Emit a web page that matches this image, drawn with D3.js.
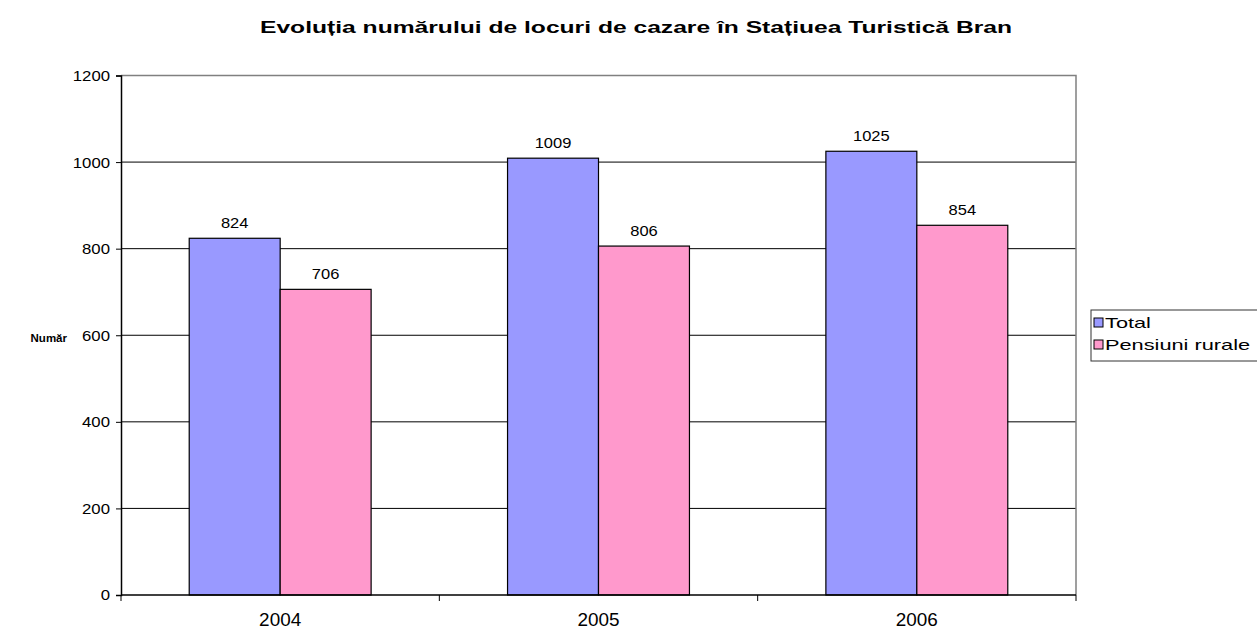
<!DOCTYPE html>
<html><head><meta charset="utf-8">
<script src="https://cdn.jsdelivr.net/npm/d3@7"></script>
<style>body{margin:0;background:#fff}svg{display:block;font-family:"Liberation Sans",Arial,sans-serif}</style>
</head><body>
<svg id="c" width="1257" height="629"></svg>
<script>
const categories = ["2004","2005","2006"];
const seriesNames = ["Total","Pensiuni rurale"];
const totalValues = [824,1009,1025];
const pensiuniValues = [706,806,854];
const yTicks = [0,200,400,600,800,1000,1200];
const colors = ["#9999FF","#FF99CC"];

const svg = d3.select("#c");
const L=121, R=1076, T=75.5, B=595;
const x = d3.scaleBand().domain(categories).range([L,R]).paddingInner(0).paddingOuter(0);
const xs = d3.scaleBand().domain(seriesNames).range([0,x.bandwidth()]).paddingInner(0).paddingOuter(0.75);
const y = d3.scaleLinear().domain([0,1200]).range([B,T]);

function stretch(sel, sx){
  sel.each(function(){ const w=this.getComputedTextLength(); d3.select(this).attr("textLength", w*sx).attr("lengthAdjust","spacingAndGlyphs"); });
}

svg.append("text").attr("x",636).attr("y",33).attr("text-anchor","middle")
  .attr("font-size",17).attr("font-weight","bold")
  .attr("textLength",752).attr("lengthAdjust","spacingAndGlyphs")
  .text("Evoluția numărului de locuri de cazare în Stațiuea Turistică Bran");

// gridlines
svg.append("g").selectAll("line").data(yTicks.filter(d=>d>0&&d<1200)).join("line")
  .attr("x1",L).attr("x2",R).attr("y1",d=>y(d)).attr("y2",d=>y(d)).attr("stroke","#000").attr("stroke-width",1);
svg.append("path").attr("d",`M${L},${T}H${R}V${B}`).attr("fill","none").attr("stroke","#808080").attr("stroke-width",1.5);

const data = categories.map((c,i)=>({c, vals:[totalValues[i],pensiuniValues[i]]}));
const g = svg.append("g").selectAll("g").data(data).join("g").attr("transform",d=>`translate(${x(d.c)},0)`);
g.selectAll("rect").data(d=>d.vals.map((v,j)=>({v,s:seriesNames[j],j}))).join("rect")
  .attr("x",d=>xs(d.s)).attr("width",xs.bandwidth()).attr("y",d=>y(d.v)).attr("height",d=>y(0)-y(d.v))
  .attr("fill",d=>colors[d.j]).attr("stroke","#000").attr("stroke-width",1.2);
const dl = g.selectAll("text").data(d=>d.vals.map((v,j)=>({v,s:seriesNames[j]}))).join("text")
  .attr("x",d=>xs(d.s)+xs.bandwidth()/2).attr("y",d=>y(d.v)-10).attr("text-anchor","middle")
  .attr("font-size",15).text(d=>d.v);
stretch(dl,1.1);

// y axis
const ya = svg.append("g").attr("transform",`translate(${L},0)`)
  .call(d3.axisLeft(y).tickValues(yTicks).tickSize(5).tickPadding(6).tickFormat(d3.format("d")));
ya.select(".domain").attr("stroke","#000").attr("stroke-width",1.5);
ya.selectAll("line").attr("stroke","#000");
ya.selectAll("text").attr("font-size",15.5).attr("fill","#000").attr("font-family","Liberation Sans, Arial, sans-serif");
stretch(ya.selectAll("text"),1.08);

// x axis
svg.append("line").attr("x1",L).attr("x2",R).attr("y1",B).attr("y2",B).attr("stroke","#000").attr("stroke-width",1.5);
const bounds = categories.map(c=>x(c)).concat([x(categories[categories.length-1])+x.bandwidth()]);
svg.append("g").selectAll("line").data(bounds).join("line")
  .attr("x1",d=>d).attr("x2",d=>d).attr("y1",B).attr("y2",B+6).attr("stroke","#000");
const xl = svg.append("g").selectAll("text").data(categories).join("text")
  .attr("x",d=>x(d)+x.bandwidth()/2).attr("y",B+31).attr("text-anchor","middle").attr("font-size",17.5).text(d=>d);
stretch(xl,1.08);

svg.append("text").attr("x",67).attr("y",342).attr("text-anchor","end").attr("font-size",11.5).attr("font-weight","bold").text("Număr");

// legend
const lg = svg.append("g").attr("transform","translate(1091,310)");
lg.append("rect").attr("x",0).attr("y",0).attr("width",175).attr("height",51).attr("fill","#fff").attr("stroke","#333").attr("stroke-width",1);
seriesNames.forEach((s,i)=>{
  lg.append("rect").attr("x",3).attr("y",8+i*22).attr("width",9).attr("height",9).attr("fill",colors[i]).attr("stroke","#000").attr("stroke-width",1);
  const t = lg.append("text").attr("x",14).attr("y",18+i*22).attr("font-size",14.5).text(s);
  stretch(t,1.5);
});
</script>
</body></html>
